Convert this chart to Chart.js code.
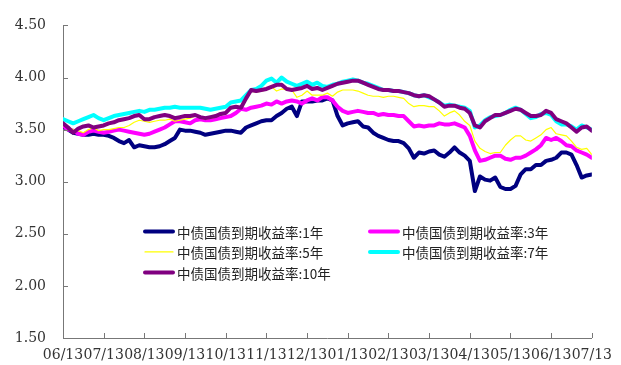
<!DOCTYPE html>
<html>
<head>
<meta charset="utf-8">
<script src="https://cdn.jsdelivr.net/npm/chart.js@4/dist/chart.umd.min.js"></script>
<style>
  body { margin: 0; background: #fff; }
  canvas { display: block; }
</style>
</head>
<body>
<canvas id="yields" width="621" height="365"></canvas>
<script>
const monthLabels = ['06/13', '07/13', '08/13', '09/13', '10/13', '11/13', '12/13',
    '01/13', '02/13', '03/13', '04/13', '05/13', '06/13', '07/13'];
const pointsPerMonth = 8;

const seriesNames = ['中债国债到期收益率:1年', '中债国债到期收益率:3年', '中债国债到期收益率:5年',
    '中债国债到期收益率:7年', '中债国债到期收益率:10年'];

const yield1y = [
    3.53, 3.50, 3.47, 3.46, 3.45, 3.45, 3.46, 3.45, 3.45, 3.44,
    3.42, 3.39, 3.37, 3.40, 3.33, 3.35, 3.34, 3.33, 3.33, 3.34,
    3.36, 3.39, 3.42, 3.50, 3.49, 3.49, 3.48, 3.47, 3.45, 3.46,
    3.47, 3.48, 3.49, 3.49, 3.48, 3.47, 3.52, 3.54, 3.56, 3.58,
    3.59, 3.59, 3.63, 3.66, 3.70, 3.72, 3.63, 3.77, 3.77, 3.77,
    3.78, 3.78, 3.80, 3.78, 3.63, 3.54, 3.56, 3.57, 3.58, 3.53,
    3.52, 3.47, 3.44, 3.42, 3.40, 3.39, 3.39, 3.37, 3.32, 3.23,
    3.28, 3.27, 3.29, 3.30, 3.26, 3.24, 3.28, 3.33, 3.28, 3.25,
    3.20, 2.91, 3.05, 3.02, 3.01, 3.04, 2.95, 2.93, 2.93, 2.96,
    3.07, 3.12, 3.12, 3.16, 3.16, 3.20, 3.21, 3.23, 3.28, 3.28,
    3.26, 3.16, 3.04, 3.06, 3.07
];
const yield3y = [
    3.54, 3.50, 3.49, 3.46, 3.45, 3.48, 3.49, 3.48, 3.47, 3.48,
    3.49, 3.50, 3.49, 3.48, 3.47, 3.46, 3.45, 3.46, 3.48, 3.50,
    3.52, 3.55, 3.58, 3.58, 3.57, 3.56, 3.59, 3.60, 3.59, 3.59,
    3.60, 3.61, 3.62, 3.63, 3.66, 3.70, 3.69, 3.71, 3.72, 3.73,
    3.75, 3.74, 3.77, 3.75, 3.77, 3.78, 3.77, 3.75, 3.78, 3.80,
    3.78, 3.81, 3.81, 3.78, 3.72, 3.68, 3.66, 3.67, 3.68, 3.67,
    3.66, 3.66, 3.64, 3.65, 3.64, 3.64, 3.63, 3.63, 3.58, 3.53,
    3.54, 3.53, 3.54, 3.54, 3.56, 3.55, 3.55, 3.56, 3.54, 3.52,
    3.44, 3.30, 3.20, 3.21, 3.23, 3.25, 3.25, 3.22, 3.21, 3.23,
    3.23, 3.25, 3.28, 3.31, 3.35, 3.42, 3.40, 3.42, 3.39, 3.35,
    3.34, 3.30, 3.28, 3.26, 3.23
];
const yield5y = [
    3.54, 3.52, 3.50, 3.49, 3.47, 3.50, 3.52, 3.49, 3.50, 3.50,
    3.51, 3.52, 3.52, 3.54, 3.57, 3.59, 3.58, 3.57, 3.58, 3.59,
    3.59, 3.60, 3.58, 3.59, 3.60, 3.61, 3.63, 3.61, 3.60, 3.61,
    3.62, 3.64, 3.65, 3.70, 3.71, 3.70, 3.79, 3.87, 3.86, 3.87,
    3.88, 3.91, 3.87, 3.89, 3.88, 3.88, 3.81, 3.83, 3.87, 3.83,
    3.83, 3.83, 3.85, 3.82, 3.86, 3.88, 3.88, 3.88, 3.87, 3.85,
    3.83, 3.82, 3.82, 3.81, 3.82, 3.82, 3.81, 3.80, 3.75, 3.72,
    3.73, 3.73, 3.72, 3.72, 3.68, 3.63, 3.66, 3.68, 3.64, 3.58,
    3.54, 3.39, 3.32, 3.29, 3.27, 3.28, 3.28, 3.35, 3.40, 3.44,
    3.44, 3.40, 3.39, 3.42, 3.45, 3.50, 3.52, 3.46, 3.45, 3.44,
    3.39, 3.33, 3.31, 3.32, 3.26
];
const yield7y = [
    3.60, 3.58, 3.56, 3.58, 3.60, 3.62, 3.64, 3.61, 3.59, 3.61,
    3.63, 3.64, 3.65, 3.66, 3.67, 3.68, 3.67, 3.69, 3.69, 3.70,
    3.71, 3.71, 3.72, 3.71, 3.71, 3.71, 3.71, 3.71, 3.70, 3.69,
    3.70, 3.71, 3.72, 3.76, 3.77, 3.78, 3.83, 3.88, 3.89, 3.92,
    3.97, 3.99, 3.95, 4.00, 3.96, 3.94, 3.92, 3.94, 3.96, 3.93,
    3.95, 3.92, 3.91, 3.93, 3.94, 3.96, 3.97, 3.98, 3.97, 3.95,
    3.94, 3.92, 3.90, 3.88, 3.88, 3.87, 3.87, 3.86, 3.85, 3.83,
    3.82, 3.83, 3.81, 3.79, 3.76, 3.73, 3.74, 3.73, 3.72, 3.71,
    3.68, 3.52, 3.54, 3.59, 3.62, 3.63, 3.64, 3.66, 3.69, 3.71,
    3.69, 3.65, 3.61, 3.62, 3.65, 3.66, 3.64, 3.58, 3.55, 3.55,
    3.53, 3.50, 3.54, 3.52, 3.50
];
const yield10y = [
    3.56, 3.52, 3.47, 3.51, 3.53, 3.54, 3.52, 3.53, 3.54, 3.56,
    3.57, 3.59, 3.60, 3.61, 3.63, 3.64, 3.60, 3.60, 3.62, 3.63,
    3.64, 3.63, 3.61, 3.62, 3.63, 3.63, 3.64, 3.62, 3.61, 3.62,
    3.63, 3.65, 3.66, 3.71, 3.72, 3.71, 3.80, 3.88, 3.87, 3.88,
    3.89, 3.91, 3.93, 3.93, 3.89, 3.88, 3.89, 3.90, 3.92, 3.89,
    3.90, 3.88, 3.90, 3.92, 3.94, 3.95, 3.96, 3.97, 3.97, 3.95,
    3.93, 3.91, 3.89, 3.88, 3.88, 3.87, 3.87, 3.86, 3.85, 3.83,
    3.82, 3.83, 3.82, 3.79, 3.76, 3.72, 3.73, 3.73, 3.71, 3.70,
    3.66, 3.54, 3.52, 3.58, 3.61, 3.64, 3.64, 3.66, 3.68, 3.70,
    3.69, 3.66, 3.63, 3.63, 3.64, 3.68, 3.66, 3.60, 3.58, 3.56,
    3.52, 3.48, 3.52, 3.53, 3.49
];

const seriesValues = [yield1y, yield3y, yield5y, yield7y, yield10y];
const seriesColors = ['#000080', '#ff00ff', '#ffff00', '#00ffff', '#800080'];
const seriesWidths = [4, 4, 1.2, 4, 4];

const tickFont = { family: 'DejaVu Serif', size: 14 };
const textColor = '#333';

// small inward tick marks on both axes
const innerTicks = {
    id: 'innerTicks',
    afterDraw(chart) {
        const ctx = chart.ctx;
        const area = chart.chartArea;
        const xs = chart.scales.x;
        const ys = chart.scales.y;
        ctx.save();
        ctx.strokeStyle = '#777';
        ctx.lineWidth = 1;
        ctx.beginPath();
        xs.ticks.forEach((t, i) => {
            const px = Math.round(xs.getPixelForTick(i)) + 0.5;
            ctx.moveTo(px, area.bottom);
            ctx.lineTo(px, area.bottom - 5);
        });
        ys.ticks.forEach((t, i) => {
            const py = Math.round(ys.getPixelForTick(i)) + 0.5;
            ctx.moveTo(area.left, py);
            ctx.lineTo(area.left + 5, py);
        });
        ctx.stroke();
        ctx.restore();
    }
};

// two-column legend drawn inside the plot
const insideLegend = {
    id: 'insideLegend',
    afterDraw(chart) {
        const ctx = chart.ctx;
        const area = chart.chartArea;
        const colX = [area.left + 82, area.left + 307];
        const rowY = area.top + 206;
        ctx.save();
        ctx.font = '13.5px "Noto Sans CJK SC"';
        ctx.textBaseline = 'middle';
        ctx.fillStyle = '#222';
        chart.data.datasets.forEach((ds, i) => {
            const x = colX[i % 2];
            const y = rowY + Math.floor(i / 2) * 20.5;
            ctx.strokeStyle = ds.borderColor;
            ctx.lineWidth = ds.borderWidth;
            ctx.lineCap = 'round';
            ctx.beginPath();
            ctx.moveTo(x, y);
            ctx.lineTo(x + 28, y);
            ctx.stroke();
            ctx.fillText(ds.label, x + 32, y + 1);
        });
        ctx.restore();
    }
};

const datasets = seriesNames.map((name, i) => ({
    label: name,
    data: seriesValues[i].map((v, j) => ({ x: j, y: v })),
    borderColor: seriesColors[i],
    borderWidth: seriesWidths[i],
    pointRadius: 0,
    tension: 0,
    borderJoinStyle: 'round',
    borderCapStyle: 'round',
    order: seriesNames.length - i
}));

new Chart(document.getElementById('yields'), {
    type: 'line',
    data: { datasets: datasets },
    options: {
        responsive: false,
        animation: false,
        devicePixelRatio: 1,
        layout: { padding: { top: 21, right: 21, bottom: 0, left: 0 } },
        plugins: {
            legend: { display: false },
            tooltip: { enabled: false }
        },
        scales: {
            x: {
                type: 'linear',
                min: 0,
                max: (monthLabels.length - 1) * pointsPerMonth,
                grid: { display: true, drawOnChartArea: false, drawTicks: false },
                border: { display: true, color: '#777', width: 1 },
                ticks: {
                    stepSize: pointsPerMonth,
                    autoSkip: false,
                    maxRotation: 0,
                    padding: 9,
                    color: textColor,
                    font: tickFont,
                    callback: (v) => monthLabels[v / pointsPerMonth]
                },
                afterFit: (scale) => { scale.height = 27; }
            },
            y: {
                min: 1.5,
                max: 4.5,
                grid: { display: true, drawOnChartArea: false, drawTicks: false },
                border: { display: true, color: '#777', width: 1 },
                ticks: {
                    stepSize: 0.5,
                    padding: 17,
                    color: textColor,
                    font: tickFont,
                    callback: (v) => v.toFixed(2)
                },
                afterFit: (scale) => { scale.width = 63; }
            }
        }
    },
    plugins: [innerTicks, insideLegend]
});
</script>
</body>
</html>
